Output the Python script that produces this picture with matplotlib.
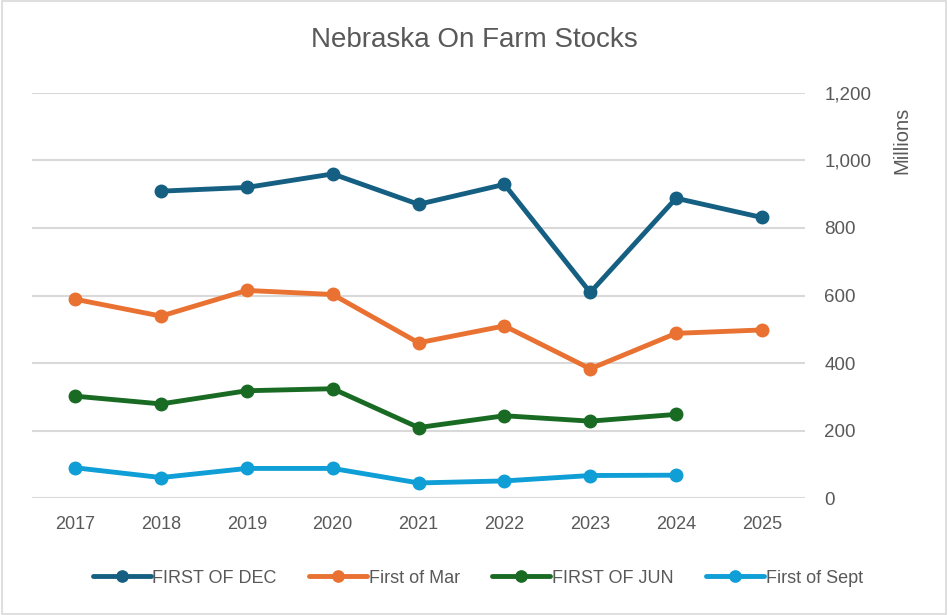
import numpy as np
import matplotlib.pyplot as plt
from matplotlib.patches import Rectangle

years = [2017, 2018, 2019, 2020, 2021, 2022, 2023, 2024, 2025]
year_labels = [str(y) for y in years]

# values in millions (nan = no point)
dec = [np.nan, 909, 920, 960, 870, 929, 609, 888, 831]
mar = [589, 539, 615, 603, 460, 510, 383, 488, 498]
jun = [302, 279, 318, 324, 209, 244, 228, 248, np.nan]
sept = [90, 61, 88, 88, 45, 51, 67, 68, np.nan]

names = ["FIRST OF DEC", "First of Mar", "FIRST OF JUN", "First of Sept"]
colors = ["#156082", "#E97132", "#196B24", "#0F9ED5"]

plt.rcParams['font.family'] = ['Liberation Sans', 'DejaVu Sans']
gray = "#595959"

fig = plt.figure(figsize=(9.48, 6.15), dpi=100)
ax = fig.add_axes([0.034, 0.19, 0.815, 0.659])

x = np.arange(len(years))
for vals, name, c in zip([dec, mar, jun, sept], names, colors):
    ax.plot(x, vals, color=c, lw=3.5, marker='o', ms=9, label=name,
            solid_capstyle='round', solid_joinstyle='round', zorder=3)

ax.set_xlim(-0.5, len(years) - 0.5)
ax.set_ylim(0, 1200)
ax.set_xticks(x)
ax.set_xticklabels(year_labels, fontsize=13, color=gray)
ax.set_yticks(range(0, 1201, 200))
ax.set_yticklabels([f"{v:,}" for v in range(0, 1201, 200)], fontsize=13.5, color=gray)
ax.yaxis.tick_right()
ax.tick_params(axis='both', length=0)
ax.tick_params(axis='y', pad=14)
ax.tick_params(axis='x', pad=13)
ax.grid(axis='y', color='#D9D9D9', lw=1.5)
ax.set_axisbelow(True)
for s in ax.spines.values():
    s.set_visible(False)

fig.text(0.5, 0.935, "Nebraska On Farm Stocks", ha='center', va='center',
         fontsize=20, color=gray)
fig.text(0.951, 0.772, "Millions", rotation=90, ha='center', va='center',
         fontsize=14.5, color=gray)

leg = fig.legend(loc='center', bbox_to_anchor=(0.504, 0.06), ncol=4, frameon=False,
                 fontsize=13, labelcolor=gray, handlelength=3.2, handletextpad=0.1,
                 columnspacing=1.8, markerscale=0.9)

fig.patches.append(Rectangle((0.002, 0.002), 0.996, 0.996, transform=fig.transFigure,
                             fill=False, edgecolor='#D9D9D9', lw=1.2))

fig.savefig("out.png", dpi=100)
